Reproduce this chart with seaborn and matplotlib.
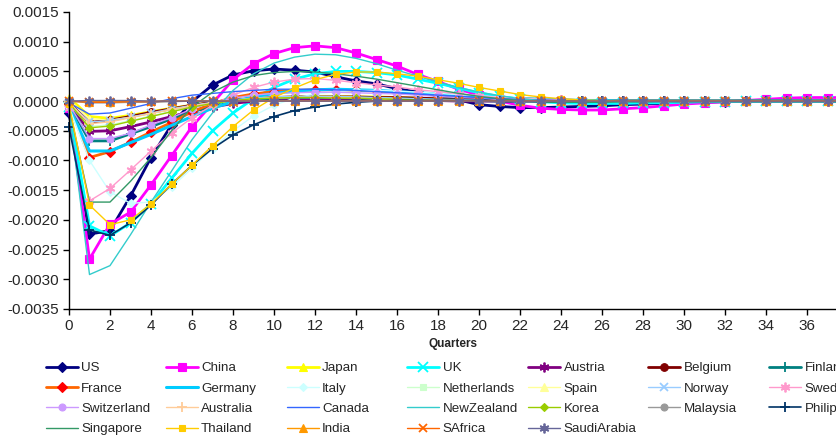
import numpy as np
import pandas as pd
import matplotlib
matplotlib.use('Agg')
from matplotlib import pyplot as plt
from matplotlib.lines import Line2D
from matplotlib.ticker import FormatStrFormatter, MultipleLocator
import seaborn as sns

# responses in units of 1e-4, quarters 0..40
SCALE = 1e-4
quarters = list(range(41))

us = [-2.0, -22.4, -21.8, -16.0, -9.5, -4.0, -0.1, 2.7, 4.4, 5.1, 5.4, 5.2, 4.9, 4.1, 3.4, 2.9, 2.1, 1.5, 0.9, 0.2,
      -0.6, -0.9, -1.1, -1.1, -1.0, -0.9, -0.8, -0.6, -0.5, -0.4, -0.3, -0.2, -0.1, 0, 0, 0, 0, 0, 0, 0, 0]
china = [-1.1, -26.6, -20.7, -18.7, -14.1, -9.2, -4.3, -0.4, 3.6, 6.3, 8.0, 9.0, 9.3, 9.0, 8.1, 7.0, 5.9, 4.5, 3.3, 2.0,
         1.0, 0.0, -0.7, -1.2, -1.4, -1.5, -1.5, -1.3, -1.1, -0.8, -0.5, -0.3, -0.1, 0.1, 0.3, 0.5, 0.6, 0.6, 0.6, 0.5, 0.5]
japan = [0.6, -2.6, -2.9, -2.4, -1.8, -1.2, -0.7, -0.3, 0.1, 0.4, 0.6, 0.7, 0.8, 0.8, 0.7, 0.7, 0.6, 0.5, 0.4, 0.3,
         0.2, 0.1, 0.1, 0, 0, 0, 0, 0, 0, 0, 0, 0, 0, 0, 0, 0, 0, 0, 0, 0, 0]
uk = [-1.0, -21.0, -22.7, -20.5, -17.3, -13.0, -8.8, -5.0, -2.0, 0.4, 2.3, 3.7, 4.6, 5.0, 5.0, 4.8, 4.4, 3.7, 3.0, 2.2,
      1.4, 0.8, 0.3, -0.1, -0.3, -0.4, -0.4, -0.4, -0.3, -0.3, -0.2, -0.1, -0.1, 0, 0, 0, 0, 0, 0, 0, 0]
austria = [-0.5, -5.1, -5.0, -4.3, -3.5, -2.6, -1.7, -1.0, -0.4, 0, 0.2, 0.3, 0.3, 0.3, 0.3, 0.2, 0.2, 0.1, 0.1, 0,
           0, 0, 0, 0, 0, 0, 0, 0, 0, 0, 0, 0, 0, 0, 0, 0, 0, 0, 0, 0, 0]
belgium = [-0.3, -3.6, -3.2, -2.6, -1.9, -1.3, -0.7, -0.2, 0.2, 0.4, 0.6, 0.7, 0.7, 0.7, 0.7, 0.6, 0.6, 0.5, 0.4, 0.3,
           0.3, 0.2, 0.1, 0.1, 0, 0, 0, 0, 0, 0, 0, 0, 0, 0, 0, 0, 0, 0, 0, 0, 0]
finland = [-0.5, -6.7, -6.7, -5.5, -4.3, -3.0, -1.8, -0.8, -0.1, 0.3, 0.5, 0.6, 0.6, 0.6, 0.5, 0.5, 0.4, 0.3, 0.2, 0.2,
           0.1, 0, 0, 0, 0, 0, 0, 0, 0, 0, 0, 0, 0, 0, 0, 0, 0, 0, 0, 0, 0]
france = [-0.5, -9.5, -8.5, -6.9, -5.2, -3.6, -1.8, -0.4, 0.6, 1.2, 1.6, 1.8, 1.9, 1.9, 1.8, 1.7, 1.5, 1.3, 1.1, 0.9,
          0.7, 0.5, 0.4, 0.3, 0.2, 0.1, 0.1, 0, 0, 0, 0, 0, 0, 0, 0, 0, 0, 0, 0, 0, 0]
germany = [-1.0, -8.4, -8.4, -7.0, -5.6, -4.1, -2.6, -1.2, -0.1, 0.7, 1.3, 1.7, 1.9, 2.0, 1.9, 1.8, 1.6, 1.4, 1.2, 1.0,
           0.8, 0.6, 0.4, 0.3, 0.2, 0.1, 0.1, 0, 0, 0, 0, 0, 0, 0, 0, 0, 0, 0, 0, 0, 0]
italy = [-1.0, -10.0, -15.3, -17.2, -17.0, -14.5, -11.3, -8.0, -5.0, -2.5, -0.7, 0.5, 1.2, 1.6, 1.8, 1.8, 1.7, 1.5, 1.3, 1.1,
         0.9, 0.7, 0.5, 0.3, 0.2, 0.1, 0, 0, 0, 0, 0, 0, 0, 0, 0, 0, 0, 0, 0, 0, 0]
netherlands = [-0.5, -4.3, -4.0, -3.3, -2.5, -1.7, -1.0, -0.4, 0.1, 0.4, 0.6, 0.7, 0.7, 0.7, 0.6, 0.5, 0.4, 0.3, 0.2, 0.2,
               0.1, 0, 0, 0, 0, 0, 0, 0, 0, 0, 0, 0, 0, 0, 0, 0, 0, 0, 0, 0, 0]
spain = [0.3, -3.0, -3.2, -2.7, -2.1, -1.4, -0.8, -0.3, 0.1, 0.4, 0.6, 0.7, 0.7, 0.7, 0.6, 0.5, 0.4, 0.3, 0.2, 0.1,
         0, 0, 0, 0, 0, 0, 0, 0, 0, 0, 0, 0, 0, 0, 0, 0, 0, 0, 0, 0, 0]
norway = [-0.3, -3.5, -3.3, -2.7, -2.0, -1.3, -0.7, -0.2, 0.2, 0.5, 0.7, 0.8, 0.8, 0.8, 0.7, 0.6, 0.5, 0.4, 0.3, 0.2,
          0.1, 0, 0, 0, 0, 0, 0, 0, 0, 0, 0, 0, 0, 0, 0, 0, 0, 0, 0, 0, 0]
sweden = [-1.2, -16.8, -14.7, -11.6, -8.4, -5.4, -2.8, -0.7, 1.0, 2.3, 3.2, 3.7, 3.8, 3.5, 3.1, 2.7, 2.4, 1.9, 1.6, 1.2,
          0.9, 0.6, 0.4, 0.3, 0.2, 0.1, 0, 0, 0, 0, 0, 0, 0, 0, 0, 0, 0, 0, 0, 0, 0]
switzerland = [-0.5, -6.3, -6.3, -5.4, -4.0, -2.8, -1.3, -0.2, 0.5, 1.0, 1.3, 1.4, 1.5, 1.5, 1.4, 1.3, 1.2, 1.0, 0.8, 0.6,
               0.5, 0.3, 0.2, 0.1, 0, 0, 0, 0, 0, 0, 0, 0, 0, 0, 0, 0, 0, 0, 0, 0, 0]
australia = [-0.2, -3.8, -3.5, -2.8, -2.1, -1.4, -0.8, -0.3, 0.1, 0.4, 0.5, 0.6, 0.6, 0.6, 0.5, 0.4, 0.3, 0.2, 0.2, 0.1,
             0, 0, 0, 0, 0, 0, 0, 0, 0, 0, 0, 0, 0, 0, 0, 0, 0, 0, 0, 0, 0]
canada = [-0.3, -2.2, -2.0, -1.2, -0.4, 0.4, 1.0, 1.3, 1.6, 1.8, 2.0, 2.0, 2.0, 1.9, 1.8, 1.6, 1.4, 1.2, 1.0, 0.8,
          0.6, 0.4, 0.3, 0.2, 0.1, 0, 0, 0, 0, 0, 0, 0, 0, 0, 0, 0, 0, 0, 0, 0, 0]
newzealand = [-1.5, -29.2, -27.7, -22.5, -17.0, -11.8, -6.5, -2.0, 1.8, 4.6, 6.4, 7.4, 7.9, 7.8, 7.2, 6.3, 5.2, 4.2, 3.2, 2.3,
              1.5, 0.9, 0.4, 0.1, -0.1, -0.2, -0.2, -0.2, -0.1, -0.1, 0, 0, 0, 0, 0, 0, 0, 0, 0, 0, 0]
korea = [-0.3, -4.5, -4.2, -3.4, -2.6, -1.8, -1.0, -0.4, 0.1, 0.4, 0.5, 0.6, 0.6, 0.5, 0.5, 0.4, 0.3, 0.2, 0.1, 0.1,
         0, 0, 0, 0, 0, 0, 0, 0, 0, 0, 0, 0, 0, 0, 0, 0, 0, 0, 0, 0, 0]
malaysia = [0, -0.3, -0.3, -0.2, -0.2, -0.1, 0, 0, 0, 0, 0, 0, 0, 0, 0, 0, 0, 0, 0, 0,
            0, 0, 0, 0, 0, 0, 0, 0, 0, 0, 0, 0, 0, 0, 0, 0, 0, 0, 0, 0, 0]
philippines = [-4.4, -21.7, -22.6, -20.5, -17.5, -14.0, -10.8, -8.0, -5.7, -4.0, -2.6, -1.6, -1.0, -0.5, -0.2, 0, 0.1, 0.1, 0.1, 0.1,
               0.1, 0, 0, 0, 0, 0, 0, 0, 0, 0, 0, 0, 0, 0, 0, 0, 0, 0, 0, 0, 0]
singapore = [-1.0, -17.0, -17.0, -13.5, -9.5, -5.0, -1.0, 1.5, 3.2, 4.3, 4.8, 5.0, 4.9, 4.6, 4.2, 3.7, 3.1, 2.5, 1.9, 1.3,
             0.8, 0.4, 0.1, -0.1, -0.2, -0.2, -0.2, -0.1, -0.1, 0, 0, 0, 0, 0, 0, 0, 0, 0, 0, 0, 0]
thailand = [-0.5, -17.5, -20.8, -20.0, -17.3, -14.0, -10.8, -7.5, -4.3, -1.5, 0.6, 2.2, 3.6, 4.5, 4.9, 4.9, 4.6, 4.2, 3.6, 3.0,
            2.3, 1.7, 1.1, 0.7, 0.4, 0.2, 0.1, 0, 0, 0, 0, 0, 0, 0, 0, 0, 0, 0, 0, 0, 0]
india = [0, -0.1, -0.1, 0, 0, 0, 0, 0, 0, 0, 0, 0, 0, 0, 0, 0, 0, 0, 0, 0,
         0, 0, 0, 0, 0, 0, 0, 0, 0, 0, 0, 0, 0, 0, 0, 0, 0, 0, 0, 0, 0]
safrica = [0, -0.2, -0.2, -0.1, -0.1, 0, 0, 0, 0, 0, 0, 0, 0, 0, 0, 0, 0, 0, 0, 0,
           0, 0, 0, 0, 0, 0, 0, 0, 0, 0, 0, 0, 0, 0, 0, 0, 0, 0, 0, 0, 0]
saudiarabia = [0, 0.1, 0.1, 0.1, 0, 0, 0, 0, 0, 0, 0, 0, 0, 0, 0, 0, 0, 0, 0, 0,
               0, 0, 0, 0, 0, 0, 0, 0, 0, 0, 0, 0, 0, 0, 0, 0, 0, 0, 0, 0, 0]

countries = ['US', 'China', 'Japan', 'UK', 'Austria', 'Belgium', 'Finland',
             'France', 'Germany', 'Italy', 'Netherlands', 'Spain', 'Norway', 'Sweden',
             'Switzerland', 'Australia', 'Canada', 'NewZealand', 'Korea', 'Malaysia', 'Philippines',
             'Singapore', 'Thailand', 'India', 'SAfrica', 'SaudiArabia']
values = [us, china, japan, uk, austria, belgium, finland,
          france, germany, italy, netherlands, spain, norway, sweden,
          switzerland, australia, canada, newzealand, korea, malaysia, philippines,
          singapore, thailand, india, safrica, saudiarabia]

ast = (6, 2, 0)
# name: (line colour, marker, marker colour, line width, marker size)
styles = {
    'US': ('#000080', 'D', '#000080', 2.0, 5),
    'China': ('#FF00FF', 's', '#FF00FF', 2.0, 5.5),
    'Japan': ('#FFFF00', '^', '#FFFF00', 2.0, 6),
    'UK': ('#00FFFF', 'x', '#00FFFF', 2.0, 7),
    'Austria': ('#800080', ast, '#800080', 2.0, 7),
    'Belgium': ('#800000', 'o', '#800000', 2.0, 5.5),
    'Finland': ('#008080', '+', '#008080', 2.0, 7),
    'France': ('#FF6600', 'D', '#FF0000', 2.0, 5),
    'Germany': ('#00CCFF', None, None, 2.2, 0),
    'Italy': ('#CCFFFF', 'D', '#CCFFFF', 1.0, 4.5),
    'Netherlands': ('#CCFFCC', 's', '#CCFFCC', 1.0, 4.5),
    'Spain': ('#FFFF99', '^', '#FFFF99', 1.0, 5.5),
    'Norway': ('#99CCFF', 'x', '#99CCFF', 1.0, 6),
    'Sweden': ('#FF99CC', ast, '#FF99CC', 1.0, 7),
    'Switzerland': ('#CC99FF', 'o', '#CC99FF', 1.0, 5),
    'Australia': ('#FFCC99', '+', '#FFCC99', 1.0, 7),
    'Canada': ('#3366FF', None, None, 1.0, 0),
    'NewZealand': ('#33CCCC', None, None, 1.0, 0),
    'Korea': ('#99CC00', 'D', '#99CC00', 1.0, 4.5),
    'Malaysia': ('#999999', 'o', '#999999', 1.0, 5),
    'Philippines': ('#003366', '+', '#003366', 1.2, 7),
    'Singapore': ('#339966', None, None, 1.0, 0),
    'Thailand': ('#FFCC00', 's', '#FFCC00', 1.0, 4.5),
    'India': ('#FF9900', '^', '#FF9900', 1.0, 5.5),
    'SAfrica': ('#FF6600', 'x', '#FF6600', 1.0, 6),
    'SaudiArabia': ('#666699', ast, '#666699', 1.0, 7),
}

rows = []
for name, vals in zip(countries, values):
    for q, v in zip(quarters, vals):
        rows.append((name, q, v * SCALE))
df = pd.DataFrame(rows, columns=['Country', 'Quarter', 'Response'])

sns.set_style('white')
plt.rcParams['font.family'] = ['Liberation Sans', 'DejaVu Sans']

fig = plt.figure(figsize=(8.37, 4.37), dpi=100)
ax = fig.add_axes([69 / 837, 128 / 437, 768 / 837, 297 / 437])

handles = []
for name in countries:
    lc, mk, mc, lw, ms = styles[name]
    sub = df[df['Country'] == name]
    kw = dict(color=lc, linewidth=lw, clip_on=False)
    if mk is not None:
        kw.update(marker=mk, markersize=ms, markerfacecolor=mc, markeredgecolor=mc,
                  markeredgewidth=1.3 if mk in ('x', '+', ast) else 0.8)
    sns.lineplot(data=sub, x='Quarter', y='Response', ax=ax, legend=False, **kw)
    hkw = {k: v for k, v in kw.items() if k != 'clip_on'}
    handles.append(Line2D([], [], **hkw))

ax.set_xlim(0, 768 / 20.5)
ax.set_ylim(-0.0035, 0.0015)
ax.xaxis.set_major_locator(MultipleLocator(2))
ax.yaxis.set_major_locator(MultipleLocator(0.0005))
ax.yaxis.set_major_formatter(FormatStrFormatter('%.4f'))
ax.tick_params(axis='both', direction='out', length=4, width=1, labelsize=11, color='black',
               left=True, bottom=True, pad=3)
for side in ['top', 'right']:
    ax.spines[side].set_visible(False)
for side in ['left', 'bottom']:
    ax.spines[side].set_color('black')
    ax.spines[side].set_linewidth(1)
ax.set_xlabel('Quarters', fontsize=8.5, fontweight='bold', labelpad=4)
ax.set_ylabel('')

# legend laid out like Excel: 7 columns filled row by row
col_x = [45.7, 165.7, 286.7, 407.3, 528.3, 648.3, 769.3]
for j, x in enumerate(col_x):
    idx = [r * 7 + j for r in range(4) if r * 7 + j < len(countries)]
    fig.legend([handles[i] for i in idx], [countries[i] for i in idx],
               loc='upper left', bbox_to_anchor=(x / 837, (437 - 362) / 437),
               frameon=False, fontsize=9.6, handlelength=2.4, handletextpad=0.25,
               borderpad=0, borderaxespad=0, labelspacing=0.6)

fig.savefig('out.png', dpi=100)
